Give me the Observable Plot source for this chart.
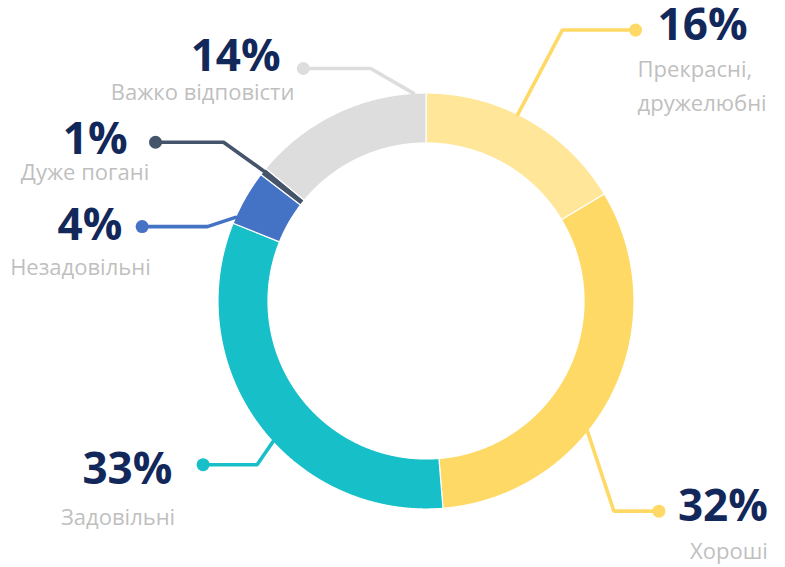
<!DOCTYPE html>
<html>
<head>
<meta charset="utf-8">
<script src="https://cdn.jsdelivr.net/npm/d3@7"></script>
<script src="https://cdn.jsdelivr.net/npm/@observablehq/plot@0.6"></script>
<style>
  html, body { margin: 0; padding: 0; background: #ffffff; }
  #chart { width: 785px; height: 567px; }
</style>
</head>
<body>
<div id="chart"></div>
<script>
// ---- data ----
const categories = ["Прекрасні,\nдружелюбні", "Хороші", "Задовільні", "Незадовільні", "Дуже погані", "Важко відповісти"];
const shares = [16.4, 32.3, 32.4, 4.3, 0.6, 14.0];
const percentLabels = ["16%", "32%", "33%", "4%", "1%", "14%"];
const sliceColors = ["#FFE699", "#FFD966", "#17BFC9", "#4472C4", "#44546A", "#DDDDDD"];
const leaderColors = ["#FFD966", "#FFD966", "#17BFC9", "#4472C4", "#44546A", "#DDDDDD"];

// ---- layout (pixel units relative to the donut centre, angles clockwise from 12 o'clock) ----
const W = 785, H = 567, CX = 425.5, CY = 300.5, R_OUT = 208, R_IN = 158;
const callouts = [
  {a0: 26.2,  a1: 26.7,  r1: 303.3, len: 73.3,  nDx: 22,    nDy: 10,   nAnchor: "start", lDx: 2,      lDy: 81,   lAnchor: "start"},
  {a0: 129,   a1: 138.2, r1: 281.9, len: 45,    nDx: 19,    nDy: 10,   nAnchor: "start", lDx: 70,     lDy: 48,   lAnchor: "middle"},
  {a0: 227.4, a1: 225.9, r1: 235.2, len: -54,   nDx: -30.7, nDy: 19,   nAnchor: "end",   lDx: -85,    lDy: 60.7, lAnchor: "middle"},
  {a0: 293.7, a1: 288.8, r1: 230.9, len: -65.3, nDx: -19.7, nDy: 13.3, nAnchor: "end",   lDx: -61.7,  lDy: 48,   lAnchor: "middle"},
  {a0: 308.7, a1: 308.1, r1: 257.3, len: -68,   nDx: -28,   nDy: 11.6, nAnchor: "end",   lDx: -70.5,  lDy: 37.3, lAnchor: "middle"},
  {a0: 356.6, a1: 346.6, r1: 239,   len: -67.3, nDx: -22.7, nDy: 2.7,  nAnchor: "end",   lDx: -100.7, lDy: 31.7, lAnchor: "middle"}
];

const rad = d => d * Math.PI / 180;
const polar = (a, r) => ({x: r * Math.sin(a), y: -r * Math.cos(a)});

// slice outlines from d3.pie angles
const pie = d3.pie().sort(null).value(d => d)(shares);
const slicePts = [];
pie.forEach((p, i) => {
  const n = Math.max(2, Math.ceil((p.endAngle - p.startAngle) / 0.004));
  for (let k = 0; k <= n; k++) {
    const a = p.startAngle + (p.endAngle - p.startAngle) * k / n;
    slicePts.push({i, ...polar(a, R_OUT)});
  }
  for (let k = n; k >= 0; k--) {
    const a = p.startAngle + (p.endAngle - p.startAngle) * k / n;
    slicePts.push({i, ...polar(a, R_IN)});
  }
});

// leader lines
const leaderPts = [];
const ends = [];
callouts.forEach((c, i) => {
  const s = polar(rad(c.a0), R_OUT);
  const e = polar(rad(c.a1), c.r1);
  const d = {i, x: e.x + c.len, y: e.y};
  leaderPts.push({i, ...s}, {i, ...e}, d);
  ends.push({...d, c});
});

const numberColor = "#13285A";
const labelColor = "#BFBFBF";
const font = "'Open Sans', 'Noto Sans', sans-serif";

const textMarks = ends.flatMap(d => [
  Plot.text([d], {
    x: e => e.x + e.c.nDx, y: e => e.y + e.c.nDy,
    text: e => percentLabels[e.i],
    textAnchor: d.c.nAnchor, lineAnchor: "bottom",
    fontSize: 44, fontWeight: "bold", fontFamily: font, fill: numberColor
  }),
  Plot.text([d], {
    x: e => e.x + e.c.lDx, y: e => e.y + e.c.lDy,
    text: e => categories[e.i],
    textAnchor: d.c.lAnchor, lineAnchor: "bottom", lineHeight: 1.55,
    fontSize: 22, fontFamily: font, fill: labelColor
  })
]);

const chart = Plot.plot({
  width: W,
  height: H,
  margin: 0,
  x: {domain: [-CX, W - CX], axis: null},
  y: {domain: [-CY, H - CY], range: [0, H], axis: null},
  color: {type: "identity"},
  style: {background: "#ffffff"},
  marks: [
    Plot.line(slicePts, {x: "x", y: "y", z: "i", fill: d => sliceColors[d.i], stroke: "#ffffff", strokeWidth: 1.2, curve: "linear-closed"}),
    Plot.line(leaderPts, {x: "x", y: "y", z: "i", stroke: d => leaderColors[d.i], strokeWidth: 3.6, strokeLinejoin: "miter"}),
    Plot.dot(ends, {x: "x", y: "y", r: 6.5, fill: d => leaderColors[d.i]}),
    ...textMarks
  ]
});
document.getElementById("chart").appendChild(chart);
</script>
</body>
</html>
